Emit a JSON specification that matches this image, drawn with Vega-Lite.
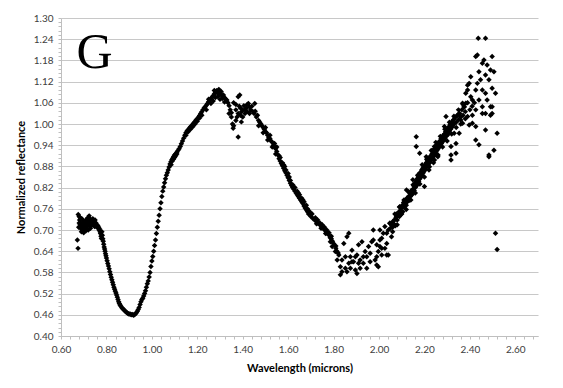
{
  "$schema": "https://vega.github.io/schema/vega-lite/v6.json",
  "width": 477,
  "height": 318,
  "autosize": "none",
  "padding": {"left": 61, "top": 18, "right": 25, "bottom": 52},
  "background": "white",
  "config": {"view": {"stroke": null}},
  "datasets": {
    "pts": [
      {"w":0.672,"r":0.672},{"w":0.675,"r":0.648},{"w":0.676,"r":0.744},{"w":0.68,"r":0.738},{"w":0.682,"r":0.728},{"w":0.684,"r":0.715},{"w":0.686,"r":0.705},{"w":0.688,"r":0.72},{"w":0.69,"r":0.71},{"w":0.692,"r":0.732},{"w":0.694,"r":0.7},{"w":0.696,"r":0.718},{"w":0.698,"r":0.708},{"w":0.7,"r":0.725},{"w":0.702,"r":0.712},{"w":0.704,"r":0.7},{"w":0.706,"r":0.72},{"w":0.708,"r":0.715},{"w":0.71,"r":0.705},{"w":0.712,"r":0.73},{"w":0.714,"r":0.722},{"w":0.716,"r":0.71},{"w":0.718,"r":0.735},{"w":0.72,"r":0.725},{"w":0.722,"r":0.715},{"w":0.724,"r":0.74},{"w":0.726,"r":0.72},{"w":0.728,"r":0.732},{"w":0.73,"r":0.722},{"w":0.732,"r":0.712},{"w":0.734,"r":0.725},{"w":0.736,"r":0.718},{"w":0.738,"r":0.728},{"w":0.74,"r":0.72},{"w":0.742,"r":0.714},{"w":0.744,"r":0.724},{"w":0.746,"r":0.716},{"w":0.748,"r":0.71},{"w":0.75,"r":0.718},{"w":0.752,"r":0.712},{"w":0.754,"r":0.72},{"w":0.756,"r":0.71},{"w":0.758,"r":0.715},{"w":0.76,"r":0.708},{"w":0.762,"r":0.712},{"w":0.764,"r":0.705},{"w":0.766,"r":0.708},{"w":0.768,"r":0.7},{"w":0.77,"r":0.703},{"w":0.772,"r":0.695},{"w":0.774,"r":0.69},{"w":0.776,"r":0.682},{"w":0.778,"r":0.676},{"w":0.68,"r":0.72},{"w":0.69,"r":0.695},{"w":0.7,"r":0.692},{"w":0.71,"r":0.698},{"w":0.72,"r":0.7},{"w":0.73,"r":0.705},{"w":0.678,"r":0.708},{"w":0.684,"r":0.735},{"w":0.74,"r":0.732},{"w":0.75,"r":0.728},
      {"w":0.78,"r":0.695},{"w":0.782,"r":0.685},{"w":0.784,"r":0.675},{"w":0.786,"r":0.668},{"w":0.788,"r":0.66},{"w":0.79,"r":0.652},{"w":0.792,"r":0.646},{"w":0.794,"r":0.64},{"w":0.796,"r":0.633},{"w":0.798,"r":0.627},{"w":0.8,"r":0.621},{"w":0.803,"r":0.613},{"w":0.806,"r":0.605},{"w":0.809,"r":0.598},{"w":0.812,"r":0.59},{"w":0.815,"r":0.582},{"w":0.818,"r":0.574},{"w":0.821,"r":0.566},{"w":0.824,"r":0.559},{"w":0.827,"r":0.552},{"w":0.83,"r":0.545},{"w":0.833,"r":0.538},{"w":0.836,"r":0.532},{"w":0.839,"r":0.527},{"w":0.842,"r":0.522},{"w":0.845,"r":0.516},{"w":0.848,"r":0.51},{"w":0.851,"r":0.503},{"w":0.854,"r":0.497},{"w":0.857,"r":0.492},{"w":0.86,"r":0.488},{"w":0.864,"r":0.484},{"w":0.868,"r":0.48},{"w":0.872,"r":0.477},{"w":0.876,"r":0.475},{"w":0.88,"r":0.472},{"w":0.884,"r":0.469},{"w":0.888,"r":0.467},{"w":0.892,"r":0.465},{"w":0.896,"r":0.463},{"w":0.9,"r":0.462},{"w":0.904,"r":0.462},{"w":0.908,"r":0.461},{"w":0.912,"r":0.46},{"w":0.916,"r":0.461},{"w":0.92,"r":0.459},{"w":0.924,"r":0.461},{"w":0.928,"r":0.463},{"w":0.932,"r":0.466},{"w":0.936,"r":0.47},{"w":0.94,"r":0.475},{"w":0.944,"r":0.481},{"w":0.948,"r":0.489},{"w":0.952,"r":0.497},{"w":0.956,"r":0.503},{"w":0.96,"r":0.507},{"w":0.964,"r":0.513},{"w":0.968,"r":0.52},{"w":0.972,"r":0.528},{"w":0.976,"r":0.538},{"w":0.98,"r":0.548},{"w":0.984,"r":0.556},{"w":0.988,"r":0.567},{"w":0.992,"r":0.58},{"w":0.996,"r":0.597},{"w":1.0,"r":0.612},{"w":1.004,"r":0.625},{"w":1.008,"r":0.64},{"w":1.012,"r":0.656},{"w":1.016,"r":0.672},{"w":1.02,"r":0.69},{"w":1.024,"r":0.708},{"w":1.028,"r":0.725},{"w":1.032,"r":0.742},{"w":1.036,"r":0.76},{"w":1.04,"r":0.777},{"w":1.044,"r":0.795},{"w":1.048,"r":0.81},{"w":1.052,"r":0.822},{"w":1.056,"r":0.834},{"w":1.06,"r":0.845},{"w":1.064,"r":0.855},{"w":1.068,"r":0.862},{"w":1.072,"r":0.87},{"w":1.076,"r":0.878},{"w":1.08,"r":0.887},{"w":1.084,"r":0.893},{"w":1.088,"r":0.899},{"w":1.092,"r":0.903},{"w":1.096,"r":0.908},{"w":1.1,"r":0.912},{"w":1.105,"r":0.916},{"w":1.11,"r":0.92},{"w":1.115,"r":0.925},{"w":1.12,"r":0.93},{"w":1.125,"r":0.936},{"w":1.13,"r":0.944},{"w":1.135,"r":0.952},{"w":1.14,"r":0.96},{"w":1.145,"r":0.968},{"w":1.15,"r":0.975},{"w":1.155,"r":0.98},{"w":1.16,"r":0.984},{"w":1.165,"r":0.988},{"w":1.17,"r":0.992},{"w":1.175,"r":0.995},{"w":1.18,"r":0.999},{"w":1.185,"r":1.003},{"w":1.19,"r":1.007},{"w":1.195,"r":1.011},{"w":1.2,"r":1.015},{"w":1.205,"r":1.019},{"w":1.21,"r":1.024},{"w":1.215,"r":1.03},{"w":1.22,"r":1.035},{"w":1.225,"r":1.04},{"w":1.23,"r":1.045},{"w":1.235,"r":1.049},{"w":1.24,"r":1.053},{"w":1.245,"r":1.058},{"w":1.25,"r":1.063},{"w":1.255,"r":1.068},{"w":1.26,"r":1.072},{"w":1.265,"r":1.076},{"w":1.27,"r":1.08},{"w":1.275,"r":1.085},{"w":1.28,"r":1.09},{"w":1.285,"r":1.094},{"w":1.29,"r":1.088},{"w":1.295,"r":1.085},{"w":1.3,"r":1.09},{"w":1.305,"r":1.083},{"w":1.31,"r":1.08},{"w":1.315,"r":1.082},{"w":1.32,"r":1.075},{"w":1.325,"r":1.07},{"w":1.33,"r":1.068},{"w":1.335,"r":1.06},{"w":1.34,"r":1.052},{"w":1.345,"r":1.04},{"w":1.35,"r":1.032},
      {"w":1.085,"r":0.885},{"w":1.09,"r":0.895},{"w":1.095,"r":0.9},{"w":1.1,"r":0.905},{"w":1.105,"r":0.91},{"w":1.11,"r":0.915},{"w":1.15,"r":0.968},{"w":1.16,"r":0.978},{"w":1.17,"r":0.985},{"w":1.18,"r":0.992},{"w":1.19,"r":1.0},{"w":1.2,"r":1.008},{"w":1.21,"r":1.017},{"w":1.22,"r":1.025},{"w":1.24,"r":1.04},{"w":1.26,"r":1.058},{"w":1.27,"r":1.065},{"w":1.28,"r":1.075},{"w":1.29,"r":1.078},{"w":1.3,"r":1.07},{"w":1.31,"r":1.072},{"w":1.32,"r":1.062},{"w":1.25,"r":1.07},{"w":1.275,"r":1.095},{"w":1.295,"r":1.098},{"w":1.305,"r":1.092},
      {"w":1.34,"r":1.03},{"w":1.35,"r":1.02},{"w":1.355,"r":1.0},{"w":1.358,"r":0.988},{"w":1.36,"r":0.995},{"w":1.38,"r":0.963},{"w":1.37,"r":1.01},{"w":1.375,"r":1.02},{"w":1.36,"r":1.06},{"w":1.37,"r":1.055},{"w":1.38,"r":1.077},{"w":1.385,"r":1.05},{"w":1.39,"r":1.045},{"w":1.395,"r":1.035},{"w":1.4,"r":1.04},{"w":1.405,"r":1.052},{"w":1.41,"r":1.04},{"w":1.415,"r":1.045},{"w":1.42,"r":1.055},{"w":1.425,"r":1.058},{"w":1.43,"r":1.048},{"w":1.435,"r":1.04},{"w":1.44,"r":1.05},{"w":1.445,"r":1.035},{"w":1.45,"r":1.03},{"w":1.455,"r":1.036},{"w":1.46,"r":1.02},{"w":1.465,"r":1.025},{"w":1.47,"r":1.01},{"w":1.475,"r":1.005},{"w":1.48,"r":1.0},{"w":1.39,"r":1.025},{"w":1.4,"r":1.02},{"w":1.41,"r":1.03},{"w":1.42,"r":1.035},{"w":1.43,"r":1.03},{"w":1.38,"r":1.03},{"w":1.37,"r":1.04},{"w":1.394,"r":1.006},{"w":1.387,"r":1.082},{"w":1.453,"r":1.058},
      {"w":1.485,"r":0.995},{"w":1.49,"r":0.99},{"w":1.495,"r":0.985},{"w":1.5,"r":0.978},{"w":1.505,"r":0.975},{"w":1.51,"r":0.968},{"w":1.515,"r":0.962},{"w":1.52,"r":0.958},{"w":1.525,"r":0.952},{"w":1.53,"r":0.948},{"w":1.535,"r":0.94},{"w":1.54,"r":0.935},{"w":1.545,"r":0.93},{"w":1.55,"r":0.922},{"w":1.555,"r":0.912},{"w":1.56,"r":0.902},{"w":1.565,"r":0.895},{"w":1.57,"r":0.888},{"w":1.575,"r":0.882},{"w":1.58,"r":0.875},{"w":1.585,"r":0.868},{"w":1.59,"r":0.862},{"w":1.595,"r":0.855},{"w":1.6,"r":0.848},{"w":1.605,"r":0.84},{"w":1.61,"r":0.832},{"w":1.615,"r":0.826},{"w":1.62,"r":0.82},{"w":1.625,"r":0.815},{"w":1.63,"r":0.81},{"w":1.635,"r":0.805},{"w":1.64,"r":0.8},{"w":1.645,"r":0.795},{"w":1.65,"r":0.79},{"w":1.655,"r":0.785},{"w":1.66,"r":0.78},{"w":1.665,"r":0.775},{"w":1.67,"r":0.768},{"w":1.675,"r":0.762},{"w":1.68,"r":0.757},{"w":1.685,"r":0.752},{"w":1.69,"r":0.745},{"w":1.7,"r":0.738},{"w":1.71,"r":0.732},{"w":1.72,"r":0.726},{"w":1.73,"r":0.72},{"w":1.74,"r":0.714},{"w":1.75,"r":0.707},{"w":1.76,"r":0.7},{"w":1.77,"r":0.693},{"w":1.78,"r":0.685},{"w":1.79,"r":0.675},{"w":1.8,"r":0.662},{"w":1.81,"r":0.648},{"w":1.82,"r":0.635},
      {"w":1.5,"r":0.99},{"w":1.52,"r":0.968},{"w":1.54,"r":0.945},{"w":1.56,"r":0.91},{"w":1.575,"r":0.89},{"w":1.59,"r":0.87},{"w":1.6,"r":0.86},{"w":1.62,"r":0.828},{"w":1.63,"r":0.82},{"w":1.65,"r":0.8},{"w":1.66,"r":0.79},{"w":1.67,"r":0.78},{"w":1.69,"r":0.755},{"w":1.7,"r":0.748},{"w":1.72,"r":0.735},{"w":1.74,"r":0.72},{"w":1.75,"r":0.715},{"w":1.77,"r":0.7},{"w":1.78,"r":0.692},{"w":1.79,"r":0.682},{"w":1.55,"r":0.935},{"w":1.58,"r":0.885},{"w":1.61,"r":0.84},{"w":1.64,"r":0.81},{"w":1.68,"r":0.77},{"w":1.73,"r":0.728},{"w":1.76,"r":0.708},
      {"w":1.47,"r":0.995},{"w":1.49,"r":0.975},{"w":1.51,"r":0.955},{"w":1.53,"r":0.935},{"w":1.545,"r":0.915},{"w":1.565,"r":0.905},{"w":1.585,"r":0.88},{"w":1.605,"r":0.85},{"w":1.625,"r":0.82},{"w":1.645,"r":0.805},{"w":1.665,"r":0.785},{"w":1.685,"r":0.76},{"w":1.705,"r":0.745},{"w":1.725,"r":0.718},{"w":1.745,"r":0.705},{"w":1.765,"r":0.69},{"w":1.785,"r":0.678},{"w":1.795,"r":0.668},{"w":1.81,"r":0.655},{"w":1.815,"r":0.64},
      {"w":1.772,"r":0.691},{"w":1.786,"r":0.667},{"w":1.794,"r":0.653},{"w":1.808,"r":0.639},{"w":1.823,"r":0.629},{"w":1.837,"r":0.615},{"w":1.83,"r":0.596},{"w":1.83,"r":0.573},{"w":1.837,"r":0.582},{"w":1.852,"r":0.592},{"w":1.867,"r":0.606},{"w":1.859,"r":0.681},{"w":1.867,"r":0.691},{"w":1.874,"r":0.624},{"w":1.881,"r":0.643},{"w":1.888,"r":0.61},{"w":1.896,"r":0.587},{"w":1.903,"r":0.629},{"w":1.91,"r":0.658},{"w":1.917,"r":0.615},{"w":1.925,"r":0.667},{"w":1.931,"r":0.606},{"w":1.939,"r":0.639},{"w":1.946,"r":0.624},{"w":1.954,"r":0.653},{"w":1.961,"r":0.634},{"w":1.968,"r":0.667},{"w":1.975,"r":0.672},{"w":1.983,"r":0.615},{"w":1.99,"r":0.601},{"w":1.99,"r":0.658},{"w":1.997,"r":0.639},{"w":2.004,"r":0.653},{"w":2.012,"r":0.677},{"w":2.019,"r":0.691},{"w":2.026,"r":0.648},{"w":2.034,"r":0.629},{"w":2.041,"r":0.7},{"w":2.048,"r":0.719},{"w":2.055,"r":0.681},{"w":2.026,"r":0.71},{"w":2.004,"r":0.7},{"w":1.975,"r":0.7},{"w":1.845,"r":0.662},{"w":1.852,"r":0.624},{"w":1.816,"r":0.615},{"w":1.903,"r":0.577},{"w":1.917,"r":0.592},{"w":1.946,"r":0.592},{"w":1.931,"r":0.624},{"w":1.961,"r":0.61},{"w":1.881,"r":0.61},{"w":1.859,"r":0.582},{"w":1.874,"r":0.592},{"w":1.896,"r":0.624},{"w":1.91,"r":0.606},{"w":1.99,"r":0.624},{"w":2.012,"r":0.629},{"w":2.034,"r":0.662},{"w":2.041,"r":0.629},{"w":1.997,"r":0.596},
      {"w":2.05,"r":0.705},{"w":2.055,"r":0.715},{"w":2.06,"r":0.708},{"w":2.062,"r":0.725},{"w":2.065,"r":0.718},{"w":2.07,"r":0.73},{"w":2.072,"r":0.712},{"w":2.075,"r":0.735},{"w":2.078,"r":0.745},{"w":2.08,"r":0.728},{"w":2.085,"r":0.742},{"w":2.088,"r":0.752},{"w":2.09,"r":0.738},{"w":2.095,"r":0.755},{"w":2.098,"r":0.745},{"w":2.1,"r":0.762},{"w":2.103,"r":0.77},{"w":2.105,"r":0.752},{"w":2.108,"r":0.778},{"w":2.11,"r":0.765},{"w":2.115,"r":0.775},{"w":2.118,"r":0.785},{"w":2.12,"r":0.77},{"w":2.123,"r":0.79},{"w":2.125,"r":0.78},{"w":2.13,"r":0.795},{"w":2.133,"r":0.785},{"w":2.135,"r":0.805},{"w":2.138,"r":0.795},{"w":2.14,"r":0.81},{"w":2.145,"r":0.8},{"w":2.148,"r":0.815},{"w":2.15,"r":0.805},{"w":2.153,"r":0.825},{"w":2.155,"r":0.812},{"w":2.158,"r":0.832},{"w":2.16,"r":0.82},{"w":2.163,"r":0.838},{"w":2.165,"r":0.825},{"w":2.168,"r":0.845},{"w":2.17,"r":0.83},{"w":2.173,"r":0.85},{"w":2.175,"r":0.838},{"w":2.178,"r":0.858},{"w":2.18,"r":0.845},{"w":2.183,"r":0.862},{"w":2.185,"r":0.85},{"w":2.188,"r":0.87},{"w":2.19,"r":0.855},{"w":2.193,"r":0.875},{"w":2.195,"r":0.862},{"w":2.198,"r":0.88},{"w":2.2,"r":0.868},{"w":2.203,"r":0.885},{"w":2.205,"r":0.872},{"w":2.208,"r":0.89},{"w":2.21,"r":0.878},{"w":2.213,"r":0.895},{"w":2.215,"r":0.882},{"w":2.218,"r":0.9},{"w":2.22,"r":0.888},{"w":2.223,"r":0.905},{"w":2.225,"r":0.892},{"w":2.228,"r":0.91},{"w":2.23,"r":0.898},{"w":2.233,"r":0.915},{"w":2.235,"r":0.902},{"w":2.238,"r":0.92},{"w":2.24,"r":0.908},{"w":2.243,"r":0.925},{"w":2.245,"r":0.912},{"w":2.248,"r":0.93},{"w":2.25,"r":0.918},{"w":2.253,"r":0.938},{"w":2.255,"r":0.925},{"w":2.258,"r":0.942},{"w":2.26,"r":0.93},{"w":2.263,"r":0.948},{"w":2.265,"r":0.935},{"w":2.268,"r":0.952},{"w":2.27,"r":0.94},{"w":2.273,"r":0.958},{"w":2.275,"r":0.945},{"w":2.278,"r":0.962},{"w":2.28,"r":0.95},{"w":2.283,"r":0.968},{"w":2.285,"r":0.955},{"w":2.288,"r":0.972},{"w":2.29,"r":0.96},{"w":2.293,"r":0.978},{"w":2.295,"r":0.965},{"w":2.298,"r":0.982},{"w":2.3,"r":0.97},{"w":2.303,"r":0.988},{"w":2.305,"r":0.975},{"w":2.308,"r":0.992},{"w":2.31,"r":0.98},{"w":2.313,"r":0.998},{"w":2.315,"r":0.985},{"w":2.318,"r":1.002},{"w":2.32,"r":0.99},{"w":2.323,"r":1.008},{"w":2.325,"r":0.995},{"w":2.328,"r":1.012},{"w":2.33,"r":1.0},{"w":2.335,"r":1.018},{"w":2.34,"r":1.005},{"w":2.345,"r":1.025},{"w":2.35,"r":1.012},{"w":2.355,"r":1.03},{"w":2.36,"r":1.02},{"w":2.365,"r":1.04},{"w":2.37,"r":1.025},{"w":2.375,"r":1.048},{"w":2.38,"r":1.035},
      {"w":2.06,"r":0.695},{"w":2.07,"r":0.745},{"w":2.08,"r":0.715},{"w":2.09,"r":0.765},{"w":2.1,"r":0.745},{"w":2.11,"r":0.785},{"w":2.12,"r":0.758},{"w":2.13,"r":0.808},{"w":2.14,"r":0.785},{"w":2.15,"r":0.828},{"w":2.16,"r":0.805},{"w":2.17,"r":0.855},{"w":2.18,"r":0.83},{"w":2.19,"r":0.885},{"w":2.2,"r":0.85},{"w":2.21,"r":0.9},{"w":2.22,"r":0.87},{"w":2.23,"r":0.925},{"w":2.24,"r":0.89},{"w":2.25,"r":0.948},{"w":2.26,"r":0.912},{"w":2.27,"r":0.965},{"w":2.28,"r":0.935},{"w":2.29,"r":0.985},{"w":2.3,"r":0.952},{"w":2.31,"r":1.005},{"w":2.32,"r":0.972},{"w":2.33,"r":1.022},{"w":2.34,"r":0.99},{"w":2.35,"r":1.04},{"w":2.36,"r":1.0},{"w":2.37,"r":1.055},{"w":2.38,"r":1.015},{"w":2.39,"r":1.06},{"w":2.4,"r":1.04},{"w":2.41,"r":1.05},{"w":2.42,"r":1.06},
      {"w":2.295,"r":1.021},{"w":2.309,"r":0.983},{"w":2.317,"r":0.898},{"w":2.339,"r":0.917},{"w":2.353,"r":1.03},{"w":2.368,"r":1.059},{"w":2.382,"r":1.087},{"w":2.39,"r":1.11},{"w":2.411,"r":1.002},{"w":2.426,"r":0.955},{"w":2.44,"r":0.941},{"w":2.455,"r":1.03},{"w":2.469,"r":0.983},{"w":2.484,"r":0.907},{"w":2.498,"r":1.049},{"w":2.506,"r":0.926},{"w":2.52,"r":0.974},{"w":2.513,"r":0.691},{"w":2.52,"r":0.645},{"w":2.437,"r":1.243},{"w":2.469,"r":1.243},{"w":2.433,"r":1.195},{"w":2.462,"r":1.181},{"w":2.498,"r":1.191},{"w":2.491,"r":1.153},{"w":2.506,"r":1.148},{"w":2.404,"r":1.134},{"w":2.447,"r":1.125},{"w":2.484,"r":1.125},{"w":2.39,"r":1.096},{"w":2.426,"r":1.096},{"w":2.469,"r":1.087},{"w":2.513,"r":1.087},{"w":2.382,"r":1.059},{"w":2.411,"r":1.068},{"w":2.455,"r":1.049},{"w":2.491,"r":1.049},{"w":2.498,"r":1.03},{"w":2.36,"r":1.011},{"w":2.331,"r":0.974},{"w":2.164,"r":0.964},{"w":2.164,"r":0.936},{"w":2.179,"r":0.917},{"w":2.208,"r":0.907},{"w":2.244,"r":0.936},{"w":2.259,"r":0.907},{"w":2.317,"r":0.912},{"w":2.484,"r":0.912},{"w":2.2,"r":0.823},
      {"w":2.426,"r":1.191},{"w":2.455,"r":1.172},{"w":2.476,"r":1.167},{"w":2.44,"r":1.148},{"w":2.469,"r":1.139},{"w":2.397,"r":1.115},{"w":2.433,"r":1.115},{"w":2.498,"r":1.101},{"w":2.455,"r":1.096},{"w":2.404,"r":1.077},{"w":2.44,"r":1.068},{"w":2.476,"r":1.068},{"w":2.375,"r":1.049},{"w":2.426,"r":1.04},{"w":2.469,"r":1.03},{"w":2.491,"r":1.025},{"w":2.346,"r":1.025},{"w":2.39,"r":1.021},{"w":2.411,"r":1.025},{"w":2.368,"r":1.002},{"w":2.397,"r":0.997},{"w":2.426,"r":0.993},{"w":2.324,"r":1.002},{"w":2.288,"r":0.993},{"w":2.302,"r":0.969},{"w":2.353,"r":0.974},{"w":2.281,"r":0.955},{"w":2.266,"r":0.936},{"w":2.317,"r":0.936},{"w":2.339,"r":0.945},{"w":2.237,"r":0.926},{"w":2.244,"r":0.898},{"w":2.222,"r":0.879},{"w":2.179,"r":0.861},{"w":2.149,"r":0.842},{"w":2.121,"r":0.813},{"w":2.135,"r":0.785},{"w":2.092,"r":0.766},{"w":2.077,"r":0.738},{"w":2.048,"r":0.719},{"w":2.034,"r":0.691},{"w":2.004,"r":0.672},{"w":2.012,"r":0.648}
    ]
  },
  "encoding": {
    "x": {
      "field": "w", "type": "quantitative",
      "scale": {"domain": [0.6, 2.7], "nice": false, "zero": false},
      "axis": {
        "title": "Wavelength (microns)",
        "values": [0.6,0.64,0.68,0.72,0.76,0.8,0.84,0.88,0.92,0.96,1.0,1.04,1.08,1.12,1.16,1.2,1.24,1.28,1.32,1.36,1.4,1.44,1.48,1.52,1.56,1.6,1.64,1.68,1.72,1.76,1.8,1.84,1.88,1.92,1.96,2.0,2.04,2.08,2.12,2.16,2.2,2.24,2.28,2.32,2.36,2.4,2.44,2.48,2.52,2.56,2.6,2.64,2.68],
        "labelExpr": "abs((datum.value-0.6)/0.2 - round((datum.value-0.6)/0.2)) < 0.01 ? format(datum.value, '.2f') : ''",
        "labelOverlap": false, "labelFlush": false,
        "grid": false,
        "domainColor": "#bfbfbf", "tickColor": "#bfbfbf", "tickSize": 3,
        "labelFont": "Lato", "labelFontSize": 10, "labelColor": "#404040", "labelPadding": 5,
        "titleFont": "Lato", "titleFontSize": 11, "titleFontWeight": "bold", "titleColor": "#000000", "titlePadding": 8
      }
    },
    "y": {
      "field": "r", "type": "quantitative",
      "scale": {"domain": [0.4, 1.3], "nice": false, "zero": false},
      "axis": {
        "title": "Normalized reflectance",
        "values": [0.4,0.412,0.424,0.436,0.448,0.46,0.472,0.484,0.496,0.508,0.52,0.532,0.544,0.556,0.568,0.58,0.592,0.604,0.616,0.628,0.64,0.652,0.664,0.676,0.688,0.7,0.712,0.724,0.736,0.748,0.76,0.772,0.784,0.796,0.808,0.82,0.832,0.844,0.856,0.868,0.88,0.892,0.904,0.916,0.928,0.94,0.952,0.964,0.976,0.988,1.0,1.012,1.024,1.036,1.048,1.06,1.072,1.084,1.096,1.108,1.12,1.132,1.144,1.156,1.168,1.18,1.192,1.204,1.216,1.228,1.24,1.252,1.264,1.276,1.288,1.3],
        "labelExpr": "abs((datum.value-0.4)/0.06 - round((datum.value-0.4)/0.06)) < 0.01 ? format(datum.value, '.2f') : ''",
        "labelOverlap": false, "labelFlush": false,
        "grid": true,
        "gridColor": "#c8c8c8",
        "gridOpacity": {"condition": {"test": "abs((datum.value-0.4)/0.06 - round((datum.value-0.4)/0.06)) < 0.01", "value": 1}, "value": 0},
        "domainColor": "#bfbfbf", "tickColor": "#bfbfbf", "tickSize": 3,
        "labelFont": "Lato", "labelFontSize": 10, "labelColor": "#404040", "labelPadding": 5,
        "titleFont": "Lato", "titleFontSize": 11, "titleFontWeight": "bold", "titleColor": "#000000", "titlePadding": 7
      }
    }
  },
  "layer": [
    {
      "data": {"name": "pts"},
      "mark": {"type": "point", "shape": "diamond", "filled": true, "color": "#000000", "size": 30, "opacity": 1}
    },
    {
      "data": {"values": [{"w": 0.748, "r": 1.1585, "t": "G"}]},
      "mark": {"type": "text", "font": "Liberation Serif", "fontSize": 50, "align": "center", "baseline": "alphabetic", "color": "#000000"},
      "encoding": {"text": {"field": "t"}}
    }
  ]
}
